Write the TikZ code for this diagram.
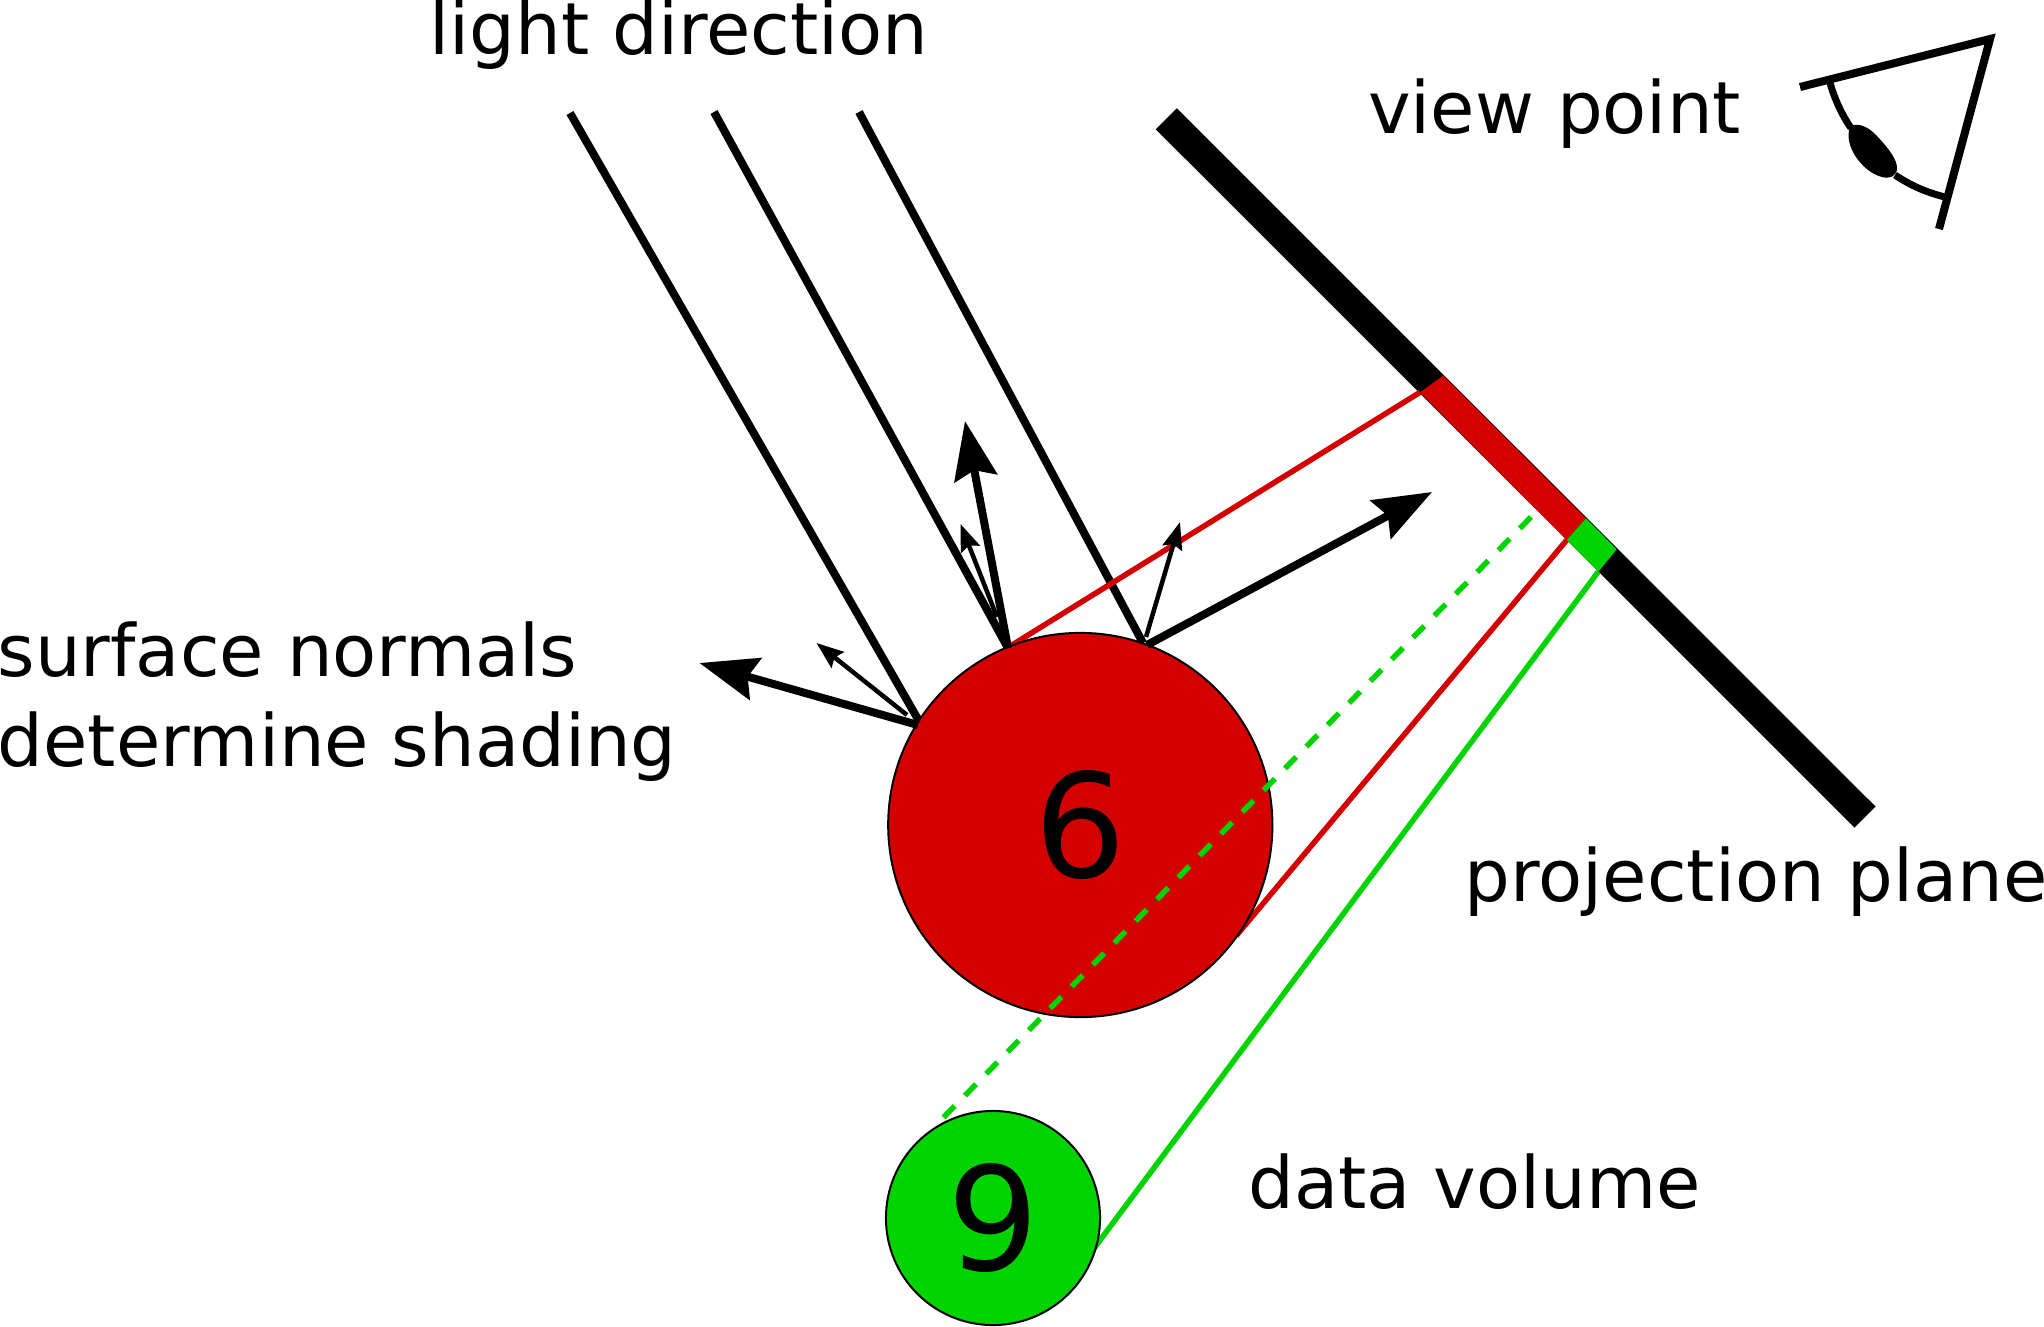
\documentclass[tikz,border=0pt]{standalone}
\usepackage{fontspec}
\setmainfont{DejaVu Sans}
\usetikzlibrary{arrows.meta}
\definecolor{dred}{HTML}{D40000}
\definecolor{dgreen}{HTML}{00D400}
\tikzset{
  x=0.01cm,y=-0.01cm,
  label text/.style={anchor=base west,inner sep=0pt,font=\fontsize{20.5pt}{24pt}\selectfont},
  ball/.style={circle,draw=black,line width=0.02cm,inner sep=0pt,font=\fontsize{41pt}{48pt}\selectfont},
  lightray/.style={line width=0.08cm},
  bigarrow/.style={line width=0.08cm,-{Stealth[length=0.58cm,width=0.43cm,inset=0.08cm]}},
  smallarrow/.style={line width=0.045cm,-{Stealth[length=0.27cm,width=0.2cm,inset=0.04cm]}},
  redline/.style={dred,line width=0.055cm},
  greenline/.style={dgreen,line width=0.055cm},
  greendash/.style={dgreen,line width=0.055cm,dash pattern=on 0.16cm off 0.145cm},
  eyeline/.style={line width=0.08cm,miter limit=10},
}
\begin{document}
\begin{tikzpicture}
\useasboundingbox (0,0) rectangle (2044,1326);
% named coordinates
\coordinate (r1s) at (570,113);  \coordinate (r1e) at (919,721);
\coordinate (r2s) at (714,112);  \coordinate (r2e) at (1008,648);
\coordinate (r3s) at (859,112);  \coordinate (r3e) at (1143,643);
\coordinate (p1) at (1166.3,118.8);  \coordinate (p2) at (1865,817);
\coordinate (ra) at (1443.3,375.7); \coordinate (rb) at (1586,518.3);
\coordinate (rc) at (1566.7,540);   \coordinate (rd) at (1420,392.3);
\coordinate (ga) at (1616.7,549.3); \coordinate (gb) at (1598.3,571.7);
\coordinate (t1) at (699.5,663);   \coordinate (s1) at (918,725);
\coordinate (t2) at (816.5,643);   \coordinate (s2) at (907,715);
\coordinate (t3) at (965,421);   \coordinate (s3) at (1008,648);
\coordinate (t4) at (960.5,524); \coordinate (s4) at (997,617);
\coordinate (t5) at (1180,522);  \coordinate (s5) at (1146,637);
\coordinate (t6) at (1432,492);  \coordinate (s6) at (1147,645);
\coordinate (re1) at (1012,645); \coordinate (re2) at (1236,936);
\coordinate (ge1) at (1092,1251);
\coordinate (de1) at (1531,517); \coordinate (de2) at (940,1121);
% light rays
\draw[lightray] (r1s) -- (r1e);
\draw[lightray] (r2s) -- (r2e);
\draw[lightray] (r3s) -- (r3e);
% projection plane
\draw[line width=0.297cm] (p1) -- (p2);
\fill[dred] (ra) -- (rb) -- (rc) -- (rd) -- cycle;
\fill[dgreen] (rb) -- (ga) -- (gb) -- (rc) -- cycle;
% projection lines behind the balls
\draw[redline] (rd) -- (re1);
\draw[redline] (rc) -- (re2);
\draw[greenline] (gb) -- (ge1);
% balls
\node[ball,fill=dred,minimum size=3.84cm] (red) at (1080.3,825) {6};
\draw[greendash] (de1) -- (de2);
\node[ball,fill=dgreen,minimum size=2.14cm] (green) at (993,1218) {9};
% normals
\draw[bigarrow] (s1) -- (t1);
\draw[smallarrow] (s2) -- (t2);
\draw[bigarrow] (s3) -- (t3);
\draw[smallarrow] (s4) -- (t4);
\draw[smallarrow] (s5) -- (t5);
\draw[bigarrow] (s6) -- (t6);
% eye
\coordinate (e1) at (1800,87);
\coordinate (e2) at (1990,39);
\coordinate (e3) at (1939,229);
\coordinate (e4) at (1830,83);
\coordinate (e5) at (1851,128);
\coordinate (e6) at (1895,175);
\coordinate (e7) at (1945,197);
\draw[eyeline] (e1) -- (e2) -- (e3);
\draw[line width=0.07cm] (e4) .. controls (1835,100) and (1842,115) .. (e5);
\draw[line width=0.07cm] (e6) .. controls (1910,185) and (1925,192) .. (e7);
\fill (1850,127) .. controls (1855,122) and (1867,125) .. (1877,136)
  .. controls (1890,150) and (1897,160) .. (1897,168)
  .. controls (1897,176) and (1890,179) .. (1882,177)
  .. controls (1862,172) and (1843,145) .. (1850,127) -- cycle;
% labels
\node[label text] (ld) at (429,54) {light direction};
\node[label text] (vp) at (1367.5,133.5) {view point};
\node[label text] (sn) at (-3,676) {surface normals};
\node[label text] (ds) at (-3,766) {determine shading};
\node[label text] (pp) at (1464,901) {projection plane};
\node[label text] (dv) at (1248,1208) {data volume};
\end{tikzpicture}
\end{document}
